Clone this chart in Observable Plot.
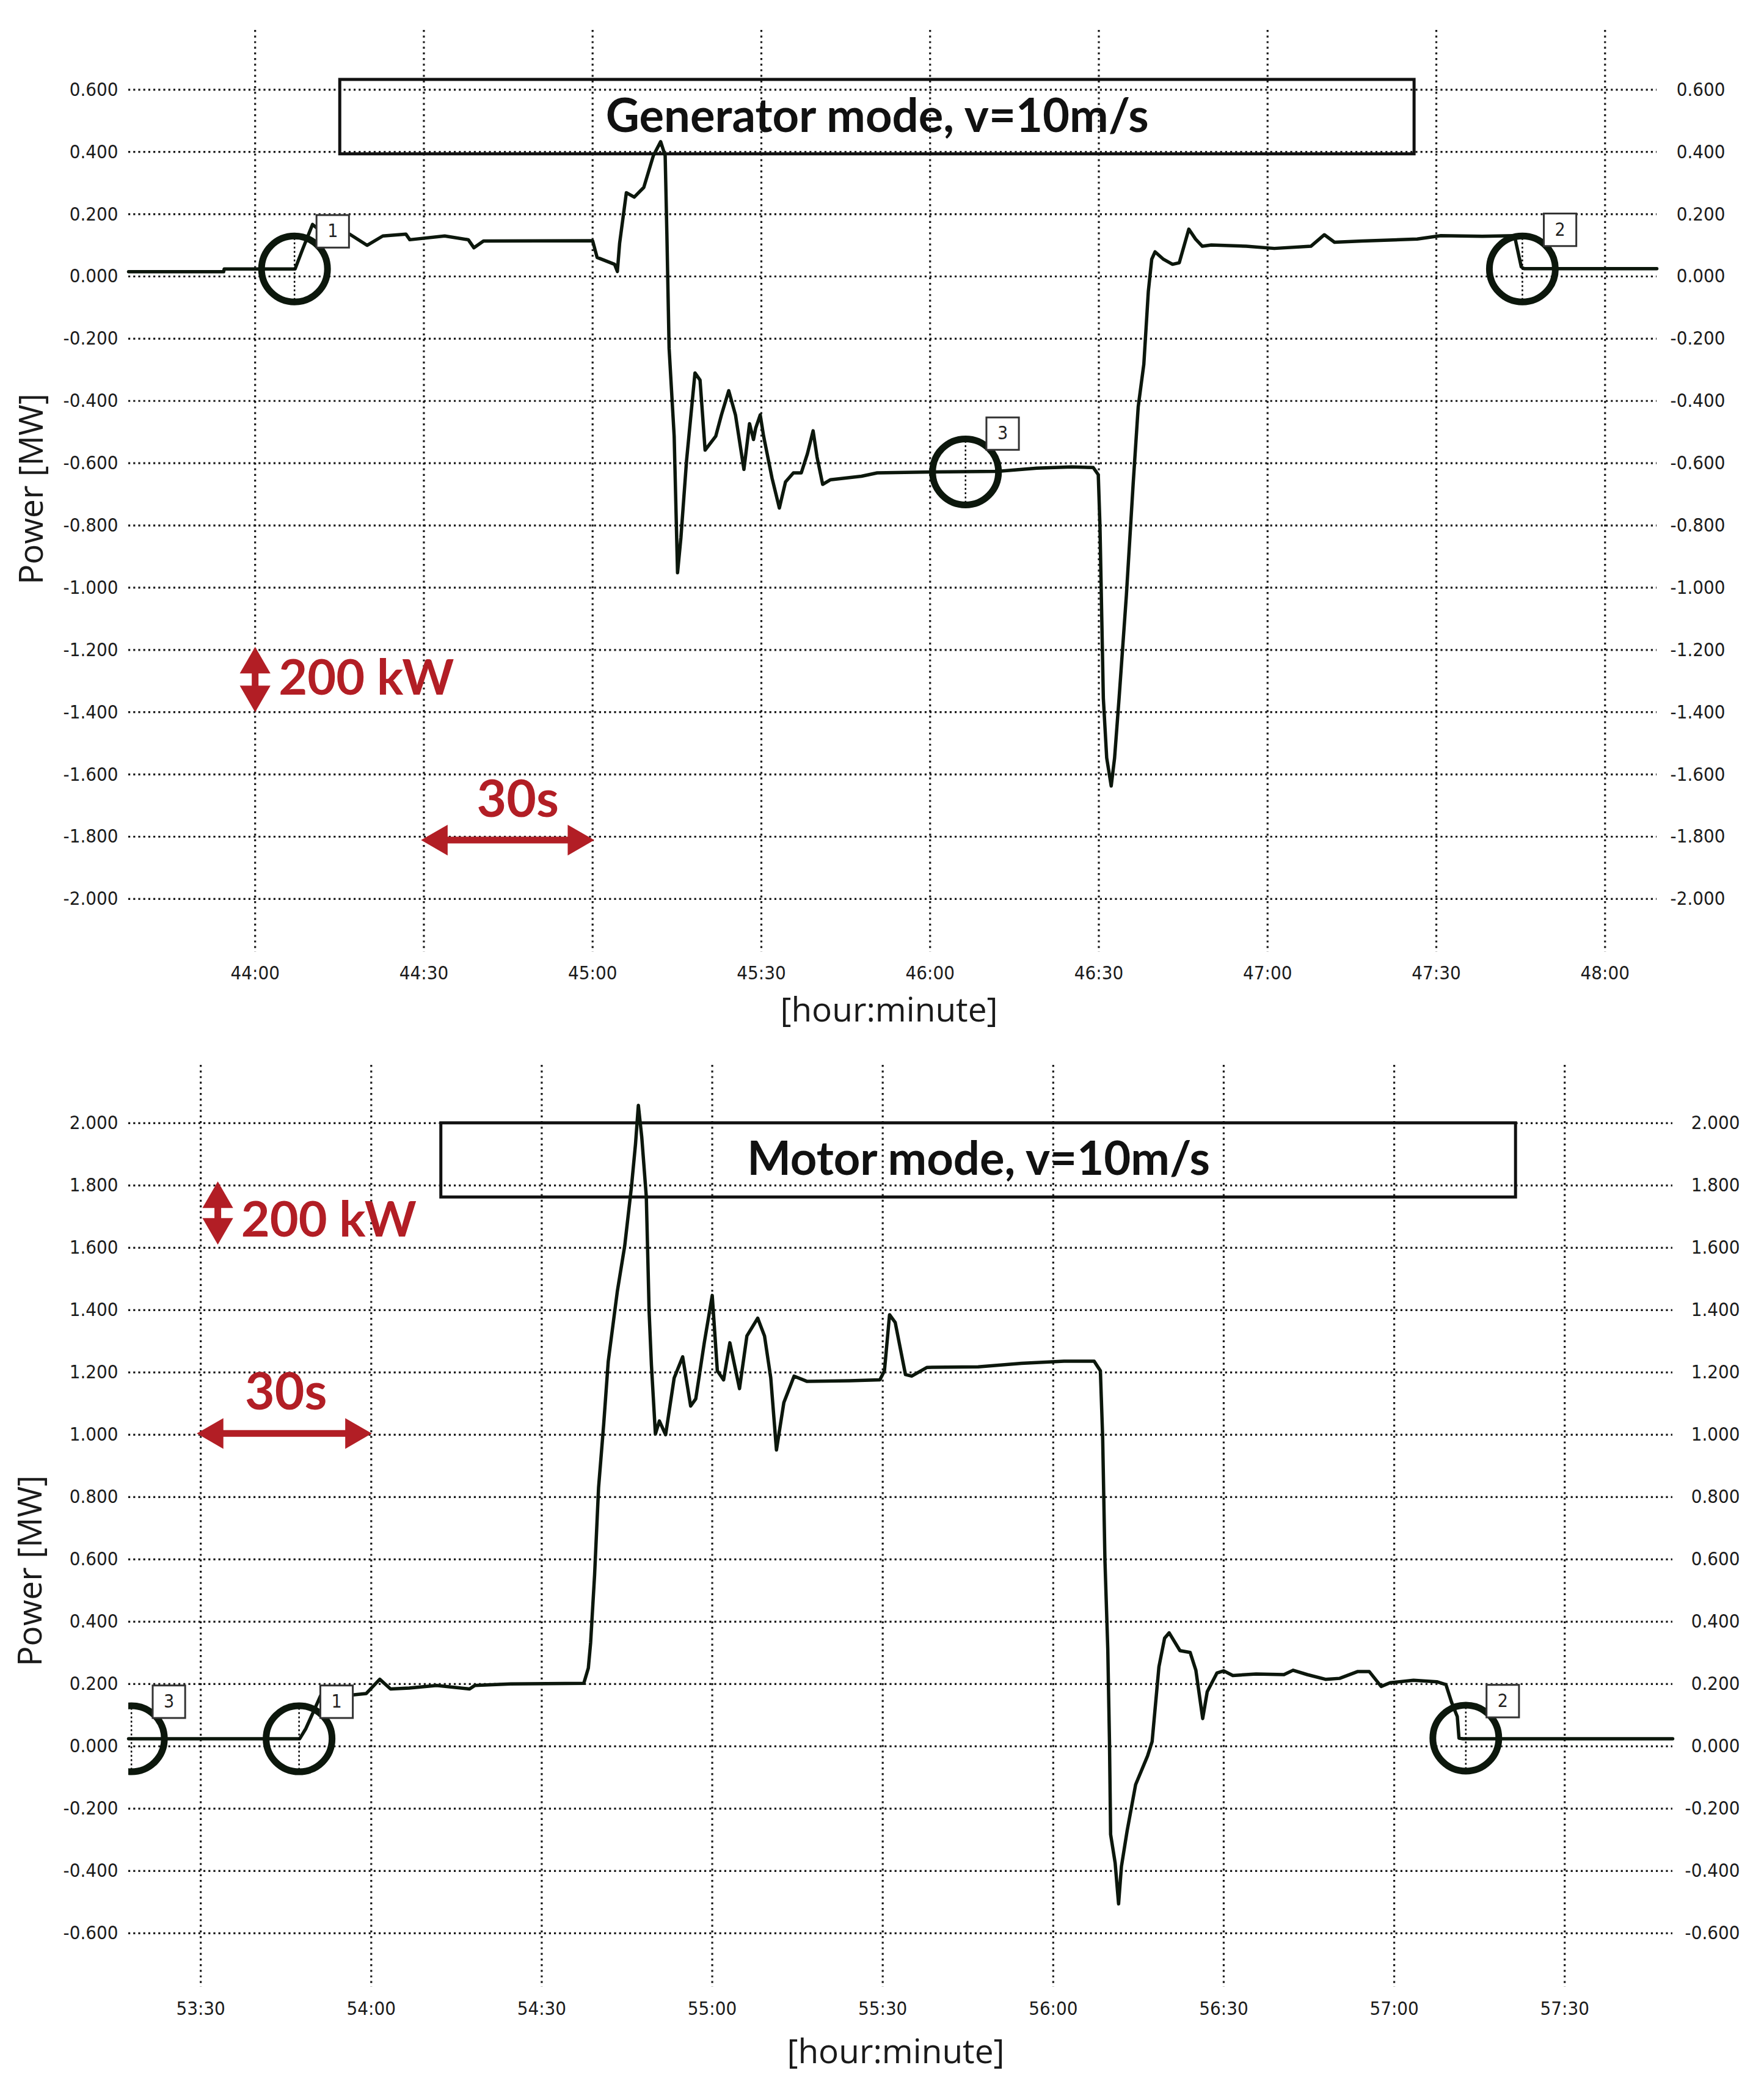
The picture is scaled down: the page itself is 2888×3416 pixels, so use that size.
<!DOCTYPE html>
<html><head><meta charset="utf-8">
<script src="https://cdn.jsdelivr.net/npm/d3@7"></script>
<script src="https://cdn.jsdelivr.net/npm/@observablehq/plot@0.6"></script>
<style>
html,body{margin:0;padding:0;background:#fff;}
#fig{position:relative;width:2888px;height:3416px;overflow:hidden;background:#fff;}
#fig svg{position:absolute;left:0;}
</style></head><body><div id="fig"></div>
<script>
// ---------- Generator mode (time: seconds within the hour, power: MW) ----------
const genTime = [2617.5, 2634.4, 2634.5, 2647.1, 2648.5, 2650.2, 2652.0, 2656.8, 2659.9, 2662.7,
  2666.8, 2667.5, 2673.7, 2677.9, 2678.9, 2680.6, 2700.0, 2700.8, 2703.9, 2704.4,
  2704.8, 2706.0, 2707.4, 2709.1, 2710.8, 2712.1, 2712.9, 2713.2, 2713.6, 2714.5,
  2715.1, 2715.7, 2716.7, 2718.2, 2719.1, 2720.0, 2721.9, 2722.9, 2724.2, 2725.4,
  2726.9, 2727.9, 2728.6, 2729.0, 2729.8, 2730.4, 2731.9, 2733.2, 2734.3, 2735.7,
  2737.1, 2738.2, 2739.2, 2739.9, 2740.9, 2742.3, 2747.8, 2750.6, 2760.3, 2772.0,
  2779.0, 2785.2, 2789.0, 2789.9, 2790.2, 2790.8, 2791.4, 2792.2, 2792.8, 2793.6,
  2794.9, 2796.1, 2797.0, 2798.0, 2798.8, 2799.4, 2800.0, 2801.5, 2803.1, 2804.3,
  2806.0, 2807.2, 2808.4, 2810.0, 2816.2, 2821.2, 2827.7, 2830.1, 2831.9, 2836.8,
  2846.6, 2850.8, 2858.2, 2863.9, 2865.1, 2865.6, 2889.2];
const genPower = [0.015, 0.015, 0.024, 0.024, 0.09, 0.167, 0.14, 0.136, 0.10, 0.13,
  0.136, 0.118, 0.13, 0.118, 0.092, 0.114, 0.115, 0.061, 0.039, 0.016,
  0.106, 0.269, 0.255, 0.286, 0.388, 0.433, 0.388, 0.14, -0.231, -0.513,
  -0.952, -0.839, -0.592, -0.310, -0.333, -0.558, -0.513, -0.445, -0.367, -0.445,
  -0.62, -0.473, -0.524, -0.487, -0.445, -0.513, -0.648, -0.744, -0.66, -0.631,
  -0.631, -0.569, -0.496, -0.58, -0.668, -0.653, -0.642, -0.631, -0.628, -0.626,
  -0.616, -0.612, -0.614, -0.637, -0.80, -1.355, -1.547, -1.637, -1.547, -1.355,
  -1.024, -0.667, -0.419, -0.282, -0.048, 0.055, 0.079, 0.055, 0.039, 0.044,
  0.152, 0.12, 0.097, 0.101, 0.097, 0.09, 0.097, 0.134, 0.11, 0.114,
  0.12, 0.131, 0.129, 0.131, 0.031, 0.025, 0.025];
const genXTicks = [2640, 2670, 2700, 2730, 2760, 2790, 2820, 2850, 2880];
const genYTicks = [0.6, 0.4, 0.2, 0, -0.2, -0.4, -0.6, -0.8, -1.0, -1.2, -1.4, -1.6, -1.8, -2.0];
const genTitle = "Generator mode, v=10m/s";
const genMarkLabels = ["1", "3", "2"];
const genCircleTime = [2647.0, 2766.3, 2865.3];
const genCirclePower = [0.024, -0.628, 0.024];
const genBoxTime = [2653.8, 2772.9, 2872.0];
const genBoxPower = [0.145, -0.505, 0.150];

// ---------- Motor mode ----------
const motTime = [3197.3, 3227.4, 3228.5, 3230.0, 3231.4, 3236.2, 3239.1, 3241.5, 3243.4, 3246.7,
  3251.5, 3257.3, 3258.2, 3264.5, 3277.4, 3278.2, 3278.6, 3279.3, 3280.0, 3280.9,
  3281.7, 3283.3, 3284.6, 3285.8, 3286.5, 3287.0, 3287.6, 3288.4, 3288.9, 3289.3,
  3290.0, 3290.7, 3291.8, 3293.3, 3294.8, 3296.2, 3297.1, 3298.6, 3300.0, 3300.9,
  3302.0, 3303.1, 3304.8, 3306.1, 3308.0, 3309.2, 3310.3, 3311.3, 3312.6, 3314.4,
  3316.7, 3324.2, 3329.5, 3330.3, 3331.2, 3332.2, 3334.0, 3335.1, 3337.8, 3346.8,
  3354.4, 3361.9, 3367.2, 3368.3, 3368.7, 3369.1, 3369.6, 3369.9, 3370.1, 3370.9,
  3371.5, 3372.0, 3373.0, 3374.5, 3376.6, 3377.4, 3378.6, 3379.6, 3380.4, 3382.3,
  3384.1, 3385.1, 3386.3, 3387.1, 3388.8, 3390.0, 3391.6, 3395.7, 3400.6, 3402.2,
  3404.7, 3407.9, 3410.4, 3413.6, 3415.6, 3417.7, 3419.3, 3423.4, 3427.5, 3429.1,
  3430.1, 3431.1, 3431.4, 3432.1, 3469.0];
const motPower = [0.024, 0.024, 0.057, 0.118, 0.175, 0.164, 0.169, 0.215, 0.184, 0.187,
  0.195, 0.184, 0.195, 0.200, 0.202, 0.251, 0.332, 0.55, 0.83, 1.033,
  1.235, 1.46, 1.606, 1.798, 1.933, 2.057, 1.955, 1.764, 1.393, 1.224,
  1.002, 1.044, 1.000, 1.182, 1.25, 1.092, 1.115, 1.295, 1.447, 1.205,
  1.176, 1.295, 1.148, 1.317, 1.374, 1.317, 1.182, 0.951, 1.103, 1.188,
  1.171, 1.173, 1.176, 1.205, 1.385, 1.36, 1.193, 1.188, 1.216, 1.218,
  1.229, 1.236, 1.236, 1.205, 0.991, 0.597, 0.313, 0.015, -0.283, -0.375,
  -0.506, -0.386, -0.272, -0.123, -0.031, 0.015, 0.255, 0.347, 0.364, 0.307,
  0.301, 0.244, 0.089, 0.175, 0.235, 0.242, 0.227, 0.232, 0.230, 0.244,
  0.230, 0.215, 0.218, 0.240, 0.240, 0.192, 0.204, 0.212, 0.207, 0.198,
  0.141, 0.095, 0.026, 0.024, 0.024];
const motXTicks = [3210, 3240, 3270, 3300, 3330, 3360, 3390, 3420, 3450];
const motYTicks = [2.0, 1.8, 1.6, 1.4, 1.2, 1.0, 0.8, 0.6, 0.4, 0.2, 0, -0.2, -0.4, -0.6];
const motTitle = "Motor mode, v=10m/s";
const motMarkLabels = ["3", "1", "2"];
const motCircleTime = [3197.8, 3227.3, 3432.6];
const motCirclePower = [0.024, 0.024, 0.026];
const motBoxTime = [3204.4, 3233.9, 3439.1];
const motBoxPower = [0.143, 0.143, 0.145];

// ---------- scale annotations (data coordinates) ----------
const genTitleBox = {x1: 2655.1, x2: 2846.1, y1: 0.393, y2: 0.632};
const motTitleBox = {x1: 3252.3, x2: 3441.4, y1: 1.762, y2: 2.000};
const genVArrow = {x: 2640, y1: -1.19, y2: -1.40};
const genHArrow = {y: -1.811, x1: 2669.5, x2: 2700.3};
const genKwLabel = {x: 2644.2, y: -1.292, text: "200 kW"};
const gen30Label = {x: 2686.7, y: -1.684, text: "30s"};
const motVArrow = {x: 3213.0, y1: 1.813, y2: 1.61};
const motHArrow = {y: 1.004, x1: 3209.3, x2: 3240.1};
const motKwLabel = {x: 3217.1, y: 1.686, text: "200 kW"};
const mot30Label = {x: 3225.0, y: 1.133, text: "30s"};
// axis-title anchors (data coordinates, left of the frame)
const genYTitle = {x: 2600.3, y: -0.683, text: "Power [MW]"};
const motYTitle = {x: 3180.1, y: 0.563, text: "Power [MW]"};

const fmtT = s => { const m = Math.floor(s / 60); const sec = Math.round(s - m * 60); return `${m}:${String(sec).padStart(2, "0")}`; };
const fmtP = v => (Math.abs(v) < 1e-9 ? 0 : v).toFixed(3);

const RED = "#b21e25";
const INK = "#0c170c";
const TICKFONT = "'DejaVu Sans Condensed', 'DejaVu Sans', 'Liberation Sans', sans-serif";

function chart(o) {
  const series = o.time.map((t, i) => ({t, p: o.power[i]}));
  const circles = o.circleTime.map((t, i) => ({t, p: o.circlePower[i]}));
  const boxes = o.boxTime.map((t, i) => ({t, p: o.boxPower[i], label: o.labels[i]}));
  const gridH = {stroke: "#000", strokeOpacity: 0.9, strokeWidth: 3.2, strokeDasharray: "3.2,5"};
  const gridV = {stroke: "#000", strokeOpacity: 0.9, strokeWidth: 3.2, strokeDasharray: "3.2,6"};
  const va = o.vArrow, ha = o.hArrow;
  const svg = Plot.plot({
    width: 2888, height: o.height,
    marginLeft: 210, marginRight: o.marginRight, marginTop: o.marginTop, marginBottom: o.marginBottom,
    x: {domain: o.xDomain, label: null},
    y: {domain: o.yDomain, label: null},
    style: {fontFamily: TICKFONT, fontSize: "31px", color: "#1b1b1b", background: "white", overflow: "visible"},
    marks: [
      Plot.gridX({ticks: o.xTicks, ...gridV}),
      Plot.gridY({ticks: o.yTicks, ...gridH}),
      Plot.axisY({ticks: o.yTicks, anchor: "left", tickSize: 0, tickPadding: 17, tickFormat: fmtP, label: null}),
      Plot.axisY({ticks: o.yTicks, anchor: "right", tickSize: 0, tickPadding: o.rightPad, textAnchor: "end", tickFormat: fmtP, label: null}),
      Plot.axisX({ticks: o.xTicks, anchor: "bottom", tickSize: 0, tickPadding: o.xPad, tickFormat: fmtT, label: null}),
      Plot.text([o.yTitle], {x: "x", y: "y", text: "text", rotate: -90, fontFamily: "'Open Sans', sans-serif", fontSize: 55, fill: "#1a1a1a"}),
      Plot.text(["[hour:minute]"], {frameAnchor: "bottom", dx: o.xLabelDx, dy: o.xLabelDy, fontFamily: "'Open Sans', sans-serif", fontSize: 55, fill: "#1a1a1a"}),
      // red scale annotations
      Plot.arrow([va], {x1: "x", x2: "x", y1: "y1", y2: "y2", headLength: 0, insetStart: 22, insetEnd: 22, stroke: RED, strokeWidth: 11, strokeLinecap: "butt"}),
      Plot.dot([va], {x: "x", y: "y1", symbol: "triangle2", r: 24, fill: RED, dy: 29}),
      Plot.dot([va], {x: "x", y: "y2", symbol: "triangle2", r: 24, fill: RED, rotate: 180, dy: -29}),
      Plot.arrow([ha], {x1: "x1", x2: "x2", y1: "y", y2: "y", headLength: 0, insetStart: 22, insetEnd: 22, stroke: RED, strokeWidth: 11, strokeLinecap: "butt"}),
      Plot.dot([ha], {x: "x1", y: "y", symbol: "triangle2", r: 24, fill: RED, rotate: -90, dx: 29}),
      Plot.dot([ha], {x: "x2", y: "y", symbol: "triangle2", r: 24, fill: RED, rotate: 90, dx: -29}),
      Plot.text([o.kwLabel], {x: "x", y: "y", text: "text", textAnchor: "start", fontFamily: "Lato, sans-serif", fontWeight: "bold", fontSize: 81, fill: RED}),
      Plot.text([o.secLabel], {x: "x", y: "y", text: "text", fontFamily: "Lato, sans-serif", fontWeight: "bold", fontSize: 84, fill: RED}),
      // title box
      Plot.rect([o.titleBox], {x1: "x1", x2: "x2", y1: "y1", y2: "y2", fill: "none", stroke: "#111", strokeWidth: 5}),
      Plot.text([o.title], {x: (o.titleBox.x1 + o.titleBox.x2) / 2, y: (o.titleBox.y1 + o.titleBox.y2) / 2, fontFamily: "Lato, sans-serif", fontWeight: "bold", fontSize: 76, fill: "#111"}),
      // data
      Plot.line(series, {x: "t", y: "p", stroke: INK, strokeWidth: 5.5}),
      // cursor markers
      Plot.ruleX(circles, {x: "t", y1: d => d.p - 0.1, y2: d => d.p + 0.1, stroke: "#000", strokeWidth: 2.5, strokeDasharray: "3,4", clip: true}),
      Plot.dot(circles, {x: "t", y: "p", r: 54, fill: "none", stroke: INK, strokeWidth: 11, clip: true}),
      Plot.dot(boxes, {x: "t", y: "p", symbol: "square", r: 30, fill: "white", stroke: "#333", strokeWidth: 3}),
      Plot.text(boxes, {x: "t", y: "p", text: "label", fontSize: 30, fill: "#222"})
    ]
  });
  svg.style.top = o.top + "px";
  return svg;
}

const fig = document.getElementById("fig");
fig.appendChild(chart({
  top: 0, height: 1708, marginTop: 49, marginBottom: 150, marginRight: 176,
  xDomain: [2617.5, 2889.2], yDomain: [-2.171, 0.791],
  time: genTime, power: genPower, xTicks: genXTicks, yTicks: genYTicks,
  circleTime: genCircleTime, circlePower: genCirclePower, boxTime: genBoxTime, boxPower: genBoxPower, labels: genMarkLabels,
  title: genTitle, titleBox: genTitleBox, vArrow: genVArrow, hArrow: genHArrow, kwLabel: genKwLabel, secLabel: gen30Label,
  yTitle: genYTitle, rightPad: 112, xPad: 22, xLabelDx: -6, xLabelDy: 113
}));
fig.appendChild(chart({
  top: 1708, height: 1708, marginTop: 35, marginBottom: 164, marginRight: 150,
  xDomain: [3197.3, 3469.0], yDomain: [-0.773, 2.186],
  time: motTime, power: motPower, xTicks: motXTicks, yTicks: motYTicks,
  circleTime: motCircleTime, circlePower: motCirclePower, boxTime: motBoxTime, boxPower: motBoxPower, labels: motMarkLabels,
  title: motTitle, titleBox: motTitleBox, vArrow: motVArrow, hArrow: motHArrow, kwLabel: motKwLabel, secLabel: mot30Label,
  yTitle: motYTitle, rightPad: 110, xPad: 23, xLabelDx: -8, xLabelDy: 124
}));
</script></body></html>
